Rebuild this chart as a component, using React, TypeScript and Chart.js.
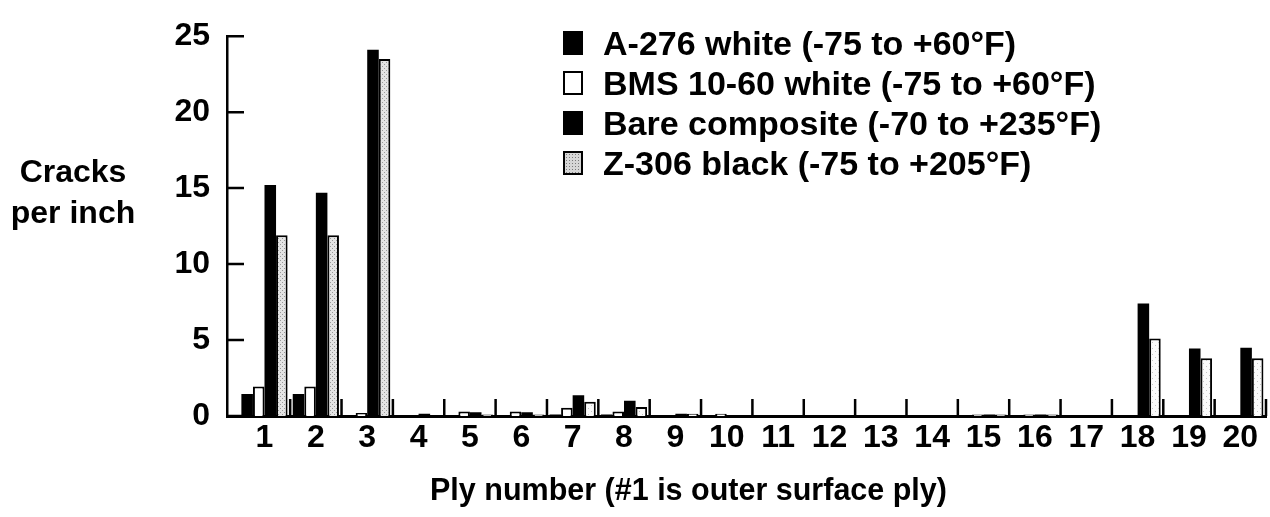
import React, { useEffect, useRef } from "react";
import { Chart, registerables } from "chart.js";

Chart.register(...registerables);

const plies = [1, 2, 3, 4, 5, 6, 7, 8, 9, 10, 11, 12, 13, 14, 15, 16, 17, 18, 19, 20];
const a276White = [1.45, 1.45, 0, 0, 0, 0, 0.1, 0.1, 0, 0, 0, 0, 0, 0, 0, 0, 0, 0, 0, 0];
const bms1060White = [1.95, 1.95, 0.2, 0, 0.3, 0.3, 0.55, 0.3, 0, 0.15, 0, 0, 0, 0, 0.1, 0.1, 0, 0, 0, 0];
const bareComposite = [15.2, 14.7, 24.1, 0.15, 0.25, 0.25, 1.36, 1.0, 0.15, 0, 0, 0, 0, 0, 0.1, 0.1, 0, 7.4, 4.45, 4.5];
const z306Black = [11.9, 11.9, 23.5, 0, 0.1, 0.1, 0.94, 0.6, 0.15, 0, 0, 0, 0, 0, 0.1, 0.1, 0, 5.1, 3.8, 3.8];
const yTickValues = [0, 5, 10, 15, 20, 25];
const seriesNames = [
  "A-276 white (-75 to +60°F)",
  "BMS 10-60 white (-75 to +60°F)",
  "Bare composite (-70 to +235°F)",
  "Z-306 black (-75 to +205°F)",
];
const yTitleLines = ["Cracks", "per inch"];
const xTitle = "Ply number (#1 is outer surface ply)";

const FONT = '"Liberation Sans", Arial, Helvetica, sans-serif';

function makeStipple(
  ctx: CanvasRenderingContext2D,
  bg: string,
  dot: string,
  size: number
): CanvasPattern | string {
  const c = document.createElement("canvas");
  c.width = size;
  c.height = size;
  const g = c.getContext("2d");
  if (!g) return bg;
  g.fillStyle = bg;
  g.fillRect(0, 0, size, size);
  g.fillStyle = dot;
  g.fillRect(0, 0, 1, 1);
  g.fillRect(Math.floor(size / 2), Math.floor(size / 2), 1, 1);
  return ctx.createPattern(c, "repeat") || bg;
}

const innerTicks = {
  id: "innerTicks",
  afterDatasetsDraw(chart: any) {
    const { ctx, scales } = chart;
    const x = scales.x;
    const y = scales.y;
    const y0 = y.getPixelForValue(0);
    ctx.save();
    ctx.strokeStyle = "#000";
    ctx.lineWidth = 2.5;
    ctx.beginPath();
    for (const p of plies) {
      const px = x.getPixelForValue(p + 0.5);
      ctx.moveTo(px, y0);
      ctx.lineTo(px, y0 - 17);
    }
    for (const t of yTickValues) {
      const py = y.getPixelForValue(t);
      ctx.moveTo(x.left, py);
      ctx.lineTo(x.left + 17, py);
    }
    ctx.stroke();
    ctx.restore();
  },
};

function LegendBox({ kind }: { kind: string }) {
  const base: React.CSSProperties = {
    width: 20,
    height: 24,
    boxSizing: "border-box",
    border: "2px solid #000",
    flex: "0 0 auto",
  };
  if (kind === "black") return <div style={{ ...base, background: "#000" }} />;
  if (kind === "white") return <div style={{ ...base, background: "#fff" }} />;
  return (
    <div
      style={{
        ...base,
        backgroundColor: "#d6d6d6",
        backgroundImage: "radial-gradient(#7a7a7a 0.7px, transparent 0.8px)",
        backgroundSize: "3px 3px",
      }}
    />
  );
}

export default function App() {
  const canvasRef = useRef<HTMLCanvasElement | null>(null);

  useEffect(() => {
    document.body.style.margin = "0";
    const canvas = canvasRef.current;
    if (!canvas) return;
    const ctx = canvas.getContext("2d");
    if (!ctx) return;
    const stipple = makeStipple(ctx, "#e4e4e4", "#999999", 4);
    const lightStipple = makeStipple(ctx, "#fafafa", "#c4c4c4", 6);

    const chart = new Chart(canvas, {
      type: "bar",
      data: {
        labels: plies,
        datasets: [
          {
            label: seriesNames[0],
            data: a276White,
            backgroundColor: "#000",
            borderColor: "#000",
            borderWidth: 0,
          },
          {
            label: seriesNames[1],
            data: bms1060White,
            backgroundColor: "#fff",
            borderColor: "#000",
            borderWidth: 2,
            borderSkipped: "bottom",
          },
          {
            label: seriesNames[2],
            data: bareComposite,
            backgroundColor: "#000",
            borderColor: "#000",
            borderWidth: 0,
          },
          {
            label: seriesNames[3],
            data: z306Black,
            backgroundColor: ((c: any) => (c.dataIndex < 3 ? stipple : lightStipple)) as any,
            borderColor: "#000",
            borderWidth: 2,
            borderSkipped: "bottom",
          },
        ],
      },
      options: {
        animation: false,
        responsive: false,
        devicePixelRatio: 1,
        layout: { padding: { top: 20, right: 4, left: 0, bottom: 0 } },
        datasets: {
          bar: { categoryPercentage: 0.9, barPercentage: 1.0 },
        },
        plugins: {
          legend: { display: false },
          tooltip: { enabled: false },
        },
        scales: {
          x: {
            type: "linear",
            offset: false,
            min: 0.27,
            max: 20.5,
            afterBuildTicks: (s: any) => {
              s.ticks = plies.map((v) => ({ value: v }));
            },
            afterFit: (s: any) => {
              s.height = 101;
            },
            ticks: {
              color: "#000",
              font: { family: FONT, size: 32, weight: "bold" },
              padding: 3,
              maxRotation: 0,
              autoSkip: false,
              callback: (v: any) => String(v),
            },
            grid: { display: false, drawTicks: false },
            border: { display: true, color: "#000", width: 3 },
          },
          y: {
            min: 0,
            max: 25,
            afterBuildTicks: (s: any) => {
              s.ticks = yTickValues.map((v) => ({ value: v }));
            },
            afterFit: (s: any) => {
              s.width = 227;
            },
            ticks: {
              color: "#000",
              font: { family: FONT, size: 32, weight: "bold" },
              padding: 17,
            },
            grid: { display: false, drawTicks: false },
            border: { display: true, color: "#000", width: 2.5 },
          },
        },
      },
      plugins: [innerTicks],
    });
    return () => chart.destroy();
  }, []);

  const textStyle: React.CSSProperties = {
    fontFamily: FONT,
    fontWeight: "bold",
    color: "#000",
    whiteSpace: "nowrap",
  };

  const kinds = ["black", "white", "black", "stipple"];

  return (
    <div style={{ position: "relative", width: 1270, height: 517, background: "#fff" }}>
      <canvas ref={canvasRef} width={1270} height={517} style={{ display: "block" }} />
      <div
        style={{
          ...textStyle,
          position: "absolute",
          left: 0,
          top: 151,
          width: 146,
          textAlign: "center",
          fontSize: 32,
          lineHeight: "41px",
        }}
      >
        {yTitleLines.map((l) => (
          <div key={l}>{l}</div>
        ))}
      </div>
      <div
        style={{
          ...textStyle,
          position: "absolute",
          left: 430,
          top: 471,
          fontSize: 30.5,
          lineHeight: "36px",
        }}
      >
        {xTitle}
      </div>
      <div style={{ position: "absolute", left: 563, top: 23 }}>
        {seriesNames.map((name, i) => (
          <div key={name} style={{ display: "flex", alignItems: "center", height: 40 }}>
            <LegendBox kind={kinds[i]} />
            <span style={{ ...textStyle, fontSize: 34, marginLeft: 20, lineHeight: "40px" }}>{name}</span>
          </div>
        ))}
      </div>
    </div>
  );
}
